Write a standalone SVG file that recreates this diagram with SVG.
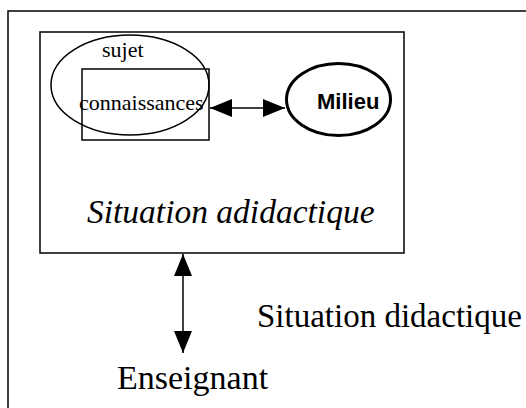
<svg xmlns="http://www.w3.org/2000/svg" width="526" height="408" viewBox="0 0 526 408">
<style>
.ln{fill:none;stroke:#000;stroke-width:1.5}
.serif{font-family:"Liberation Serif","Times New Roman",serif;fill:#000}
.sans{font-family:"Liberation Sans",Arial,sans-serif;fill:#000}
</style>
<defs>
<marker id="ah" viewBox="0 0 22 18" refX="22" refY="9" markerWidth="22" markerHeight="18" markerUnits="userSpaceOnUse" orient="auto-start-reverse">
<path d="M0,0 L22,9 L0,18 Z" fill="#000"/>
</marker>
</defs>
<rect width="526" height="408" fill="#fff"/>
<g id="frame"><rect class="ln" x="8" y="11" width="540" height="420"/></g>
<g id="situation-adidactique">
<rect class="ln" x="40" y="32" width="364" height="221"/>
<text class="serif" x="87" y="223" font-size="33.5" font-style="italic">Situation adidactique</text>
</g>
<g id="sujet">
<ellipse class="ln" cx="130" cy="85" rx="79" ry="50"/>
<text class="serif" x="102" y="57" font-size="22">sujet</text>
</g>
<g id="connaissances">
<rect class="ln" x="82" y="69" width="127" height="71"/>
<text class="serif" x="79" y="110" font-size="22">connaissances</text>
</g>
<g id="milieu">
<ellipse fill="none" stroke="#000" stroke-width="3" cx="338.5" cy="99.5" rx="52" ry="36"/>
<text class="sans" x="317" y="109" font-size="22" font-weight="bold">Milieu</text>
</g>
<g id="enseignant">
<text class="serif" x="117" y="389" font-size="34">Enseignant</text>
</g>
<g id="situation-didactique-label">
<text class="serif" x="257" y="327" font-size="33">Situation didactique</text>
</g>
<g id="connectors">
<line class="ln" x1="210" y1="108" x2="285" y2="108" marker-start="url(#ah)" marker-end="url(#ah)"/>
<line class="ln" x1="183" y1="254" x2="183" y2="353" marker-start="url(#ah)" marker-end="url(#ah)"/>
</g>
</svg>
